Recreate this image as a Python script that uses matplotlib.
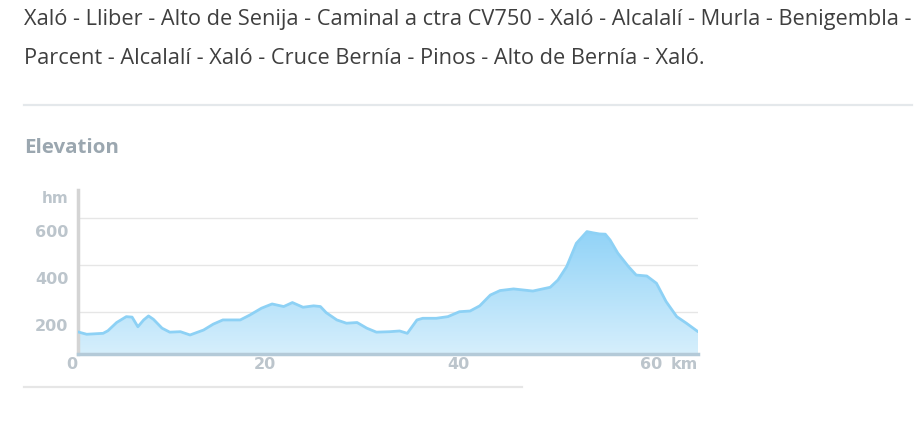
import matplotlib
matplotlib.use("Agg")
import matplotlib.pyplot as plt
import matplotlib.transforms as mtransforms
from matplotlib.lines import Line2D
from matplotlib.colors import LinearSegmentedColormap
import numpy as np

# 路线描述
route_line1 = "Xaló - Lliber - Alto de Senija - Caminal a ctra CV750 - Xaló - Alcalalí - Murla - Benigembla -"
route_line2 = "Parcent - Alcalalí - Xaló - Cruce Bernía - Pinos - Alto de Bernía - Xaló."

# 海拔剖面 (km, m)
distance_km = [0.0, 0.9, 2.6, 3.1, 4.0, 5.0, 5.6, 6.2, 6.8, 7.3, 7.8, 8.7, 9.5, 10.6,
               11.6, 13.0, 14.0, 15.0, 16.8, 17.8, 19.0, 20.1, 21.3, 22.2, 23.3, 24.4,
               25.1, 25.7, 26.8, 27.8, 28.9, 29.9, 30.9, 32.3, 33.3, 34.1, 35.1, 35.7,
               37.1, 38.3, 39.5, 40.6, 41.6, 42.7, 43.7, 45.1, 47.1, 48.9, 49.7, 50.6,
               51.6, 52.7, 53.3, 54.0, 54.6, 55.1, 55.9, 57.0, 57.8, 58.9, 59.9, 60.9,
               62.0, 63.0, 64.2]
elevation_m = [115, 105, 109, 120, 155, 180, 178, 137, 166, 183, 169, 131, 114, 116,
               102, 123, 148, 166, 166, 187, 216, 234, 223, 240, 220, 226,
               223, 197, 166, 152, 155, 131, 114, 116, 119, 109, 166, 173,
               173, 180, 201, 204, 226, 272, 291, 298, 289, 305, 336, 393,
               492, 542, 537, 532, 531, 506, 450, 393, 357, 353, 322, 244,
               180, 152, 116]

y_ticks = [200, 400, 600]
x_ticks = [0, 20, 40, 60]

label_color = "#bcc5cc"
W, H = 920, 426

fig = plt.figure(figsize=(W / 100, H / 100), dpi=100)
renderer = fig.canvas.get_renderer()


def fit_width(txt, target_px):
    # 按参考图宽度调整字号
    w = txt.get_window_extent(renderer).width
    txt.set_fontsize(txt.get_fontsize() * target_px / w)


# 标题文字
t1 = fig.text(24 / W, 1 - 20 / H, route_line1, fontsize=13, color="#3f3f3f",
              family="Open Sans", ha="left", va="center")
fit_width(t1, 881)
t2 = fig.text(24 / W, 1 - 58 / H, route_line2, fontsize=t1.get_fontsize(), color="#3f3f3f",
              family="Open Sans", ha="left", va="center")
fig.add_artist(Line2D([24 / W, 912 / W], [1 - 105 / H] * 2, color="#e4e8eb", lw=1.6))
te = fig.text(24 / W, 1 - 148 / H, "Elevation", fontsize=13, fontweight="bold",
              color="#9ba7b0", family="Open Sans", ha="left", va="center")
fit_width(te, 94)
fig.add_artist(Line2D([24 / W, 522 / W], [1 - 387 / H] * 2, color="#e6e6e6", lw=1.6))

ax = fig.add_axes([78 / W, 72 / H, 620 / W, 164 / H])
x = np.array(distance_km)
y = np.array(elevation_m)

# 渐变填充
cmap = LinearSegmentedColormap.from_list("elev", ["#d6effc", "#8fd2f7"])
grad = np.linspace(0, 1, 256).reshape(-1, 1)
poly = ax.fill_between(x, y, 21, color="none", lw=0)
img = ax.imshow(grad, cmap=cmap, origin="lower", aspect="auto",
                extent=[x[0], x[-1], 21, 560], zorder=2)
img.set_clip_path(poly.get_paths()[0], transform=ax.transData)
ax.plot(x, y, color="#8dd1f5", lw=2, zorder=3, solid_joinstyle="round",
        solid_capstyle="round")
ax.set_xlim(x[0], x[-1])
ax.set_ylim(21, 719)

# 网格和坐标轴
ax.set_yticks(y_ticks)
ax.set_yticklabels([str(v) for v in y_ticks])
ax.yaxis.grid(True, color="#e6e6e6", lw=1)
ax.set_axisbelow(True)
ax.set_xticks(x_ticks)
ax.set_xticklabels([str(v) for v in x_ticks])
ax.tick_params(axis="y", length=0, labelsize=11.5, labelcolor=label_color, pad=7)
ax.tick_params(axis="x", length=0, labelsize=11.5, labelcolor=label_color, pad=2)
for lab in ax.get_yticklabels():
    lab.set_fontweight("bold")
    lab.set_transform(lab.get_transform() +
                      mtransforms.ScaledTranslation(0, -13 / 100, fig.dpi_scale_trans))
for lab in ax.get_xticklabels():
    lab.set_fontweight("bold")
    lab.set_transform(lab.get_transform() +
                      mtransforms.ScaledTranslation(-6 / 100, 0, fig.dpi_scale_trans))

for s in ["top", "right"]:
    ax.spines[s].set_visible(False)
ax.spines["left"].set_color("#d4d4d4")
ax.spines["left"].set_linewidth(2.5)
ax.spines["bottom"].set_color("#b4cad8")
ax.spines["bottom"].set_linewidth(2.5)
ax.spines["bottom"].set_zorder(4)

ax.annotate("hm", xy=(0, 1), xycoords="axes fraction", xytext=(-7, -6),
            textcoords="offset points", ha="right", va="center", fontsize=11,
            fontweight="bold", color=label_color)
ax.annotate("km", xy=(1, 0), xycoords="axes fraction", xytext=(0, -2.5),
            textcoords="offset points", ha="right", va="top", fontsize=11.5,
            fontweight="bold", color=label_color)

fig.savefig("out.png", dpi=100)
